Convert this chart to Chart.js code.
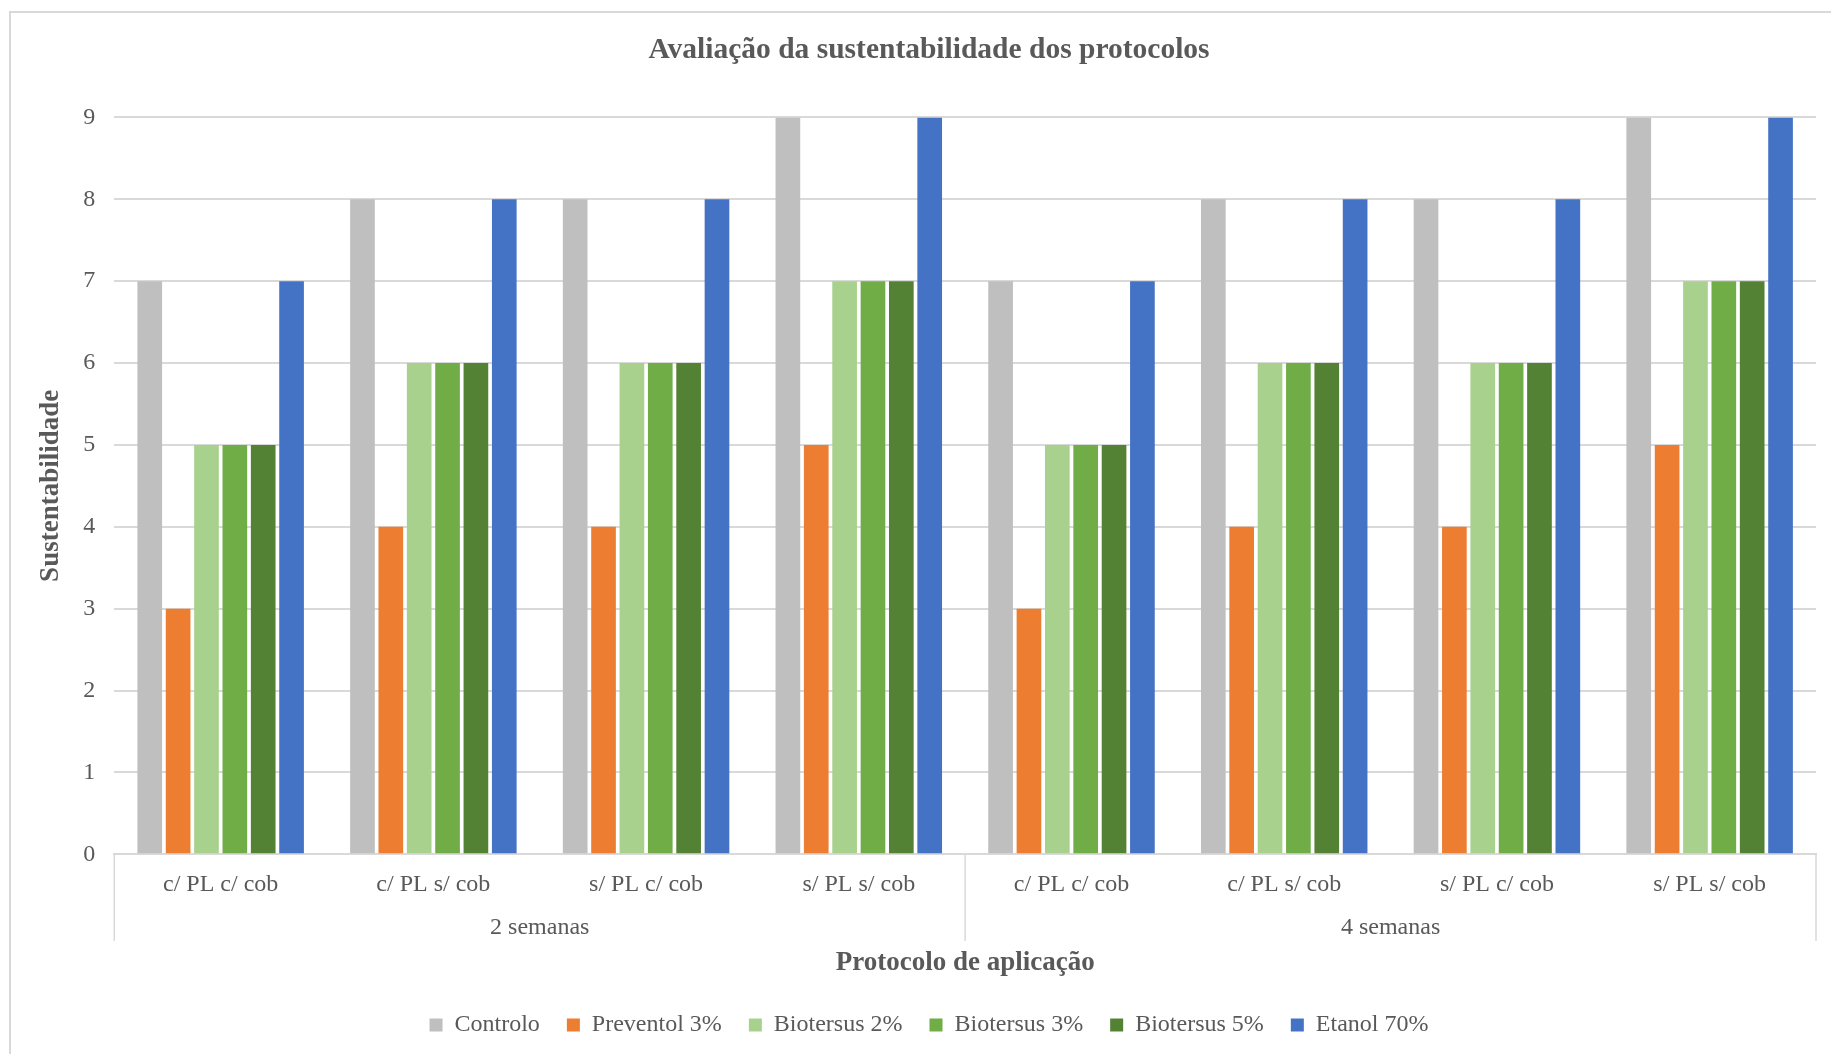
<!DOCTYPE html>
<html>
<head>
  <title>Avaliação da sustentabilidade dos protocolos</title>
  <style>
    body {
      margin: 0;
      background-color: #ffffff;
      overflow: hidden;
    }
    .frame {
      position: absolute;
      left: 9px;
      top: 11px;
      width: 1840px;
      height: 1060px;
      border: 2px solid #d9d9d9;
    }
    .chart-container {
      position: absolute;
      left: 0;
      top: 0;
      width: 1831px;
      height: 1054px;
    }
  </style>
</head>
<body>
  <div class="frame"></div>
  <div class="chart-container">
    <canvas id="sustChart"></canvas>
  </div>

  <script src="https://cdn.jsdelivr.net/npm/chart.js"></script>
  <script>
    // protocolos por periodo (2 semanas, depois 4 semanas)
    const protocolos = ['c/ PL c/ cob', 'c/ PL s/ cob', 's/ PL c/ cob', 's/ PL s/ cob',
                        'c/ PL c/ cob', 'c/ PL s/ cob', 's/ PL c/ cob', 's/ PL s/ cob'];
    const semanas = ['2 semanas', '4 semanas'];
    const yTicks = [0, 1, 2, 3, 4, 5, 6, 7, 8, 9];

    const controlo    = [7, 8, 8, 9, 7, 8, 8, 9];
    const preventol3  = [3, 4, 4, 5, 3, 4, 4, 5];
    const biotersus2  = [5, 6, 6, 7, 5, 6, 6, 7];
    const biotersus3  = [5, 6, 6, 7, 5, 6, 6, 7];
    const biotersus5  = [5, 6, 6, 7, 5, 6, 6, 7];
    const etanol70    = [7, 8, 8, 9, 7, 8, 8, 9];

    const cinza = '#595959';
    const linha = '#d9d9d9';

    Chart.defaults.font.family = "'Liberation Serif', 'Times New Roman', serif";
    Chart.defaults.color = cinza;

    // linhas verticais que separam os grupos de semanas no eixo x
    const separadores = {
      id: 'separadores',
      afterDraw(chart) {
        const x = chart.scales.x;
        const x2 = chart.scales.x2;
        const porGrupo = protocolos.length / semanas.length;
        const ctx = chart.ctx;
        const pos = [x.left];
        for (let g = 1; g < semanas.length; g++) {
          pos.push((x.getPixelForValue(g * porGrupo - 1) + x.getPixelForValue(g * porGrupo)) / 2);
        }
        pos.push(x.right);
        const y0 = chart.chartArea.bottom;
        const y1 = x2.top + 26;
        ctx.save();
        ctx.strokeStyle = linha;
        ctx.lineWidth = 1.5;
        pos.forEach(px => {
          ctx.beginPath();
          ctx.moveTo(px, y0);
          ctx.lineTo(px, y1);
          ctx.stroke();
        });
        ctx.restore();
      }
    };

    function serie(label, data, color) {
      return {
        label: label,
        data: data,
        backgroundColor: color,
        borderWidth: 0,
        categoryPercentage: 0.8,
        barPercentage: 0.87
      };
    }

    const ctx = document.getElementById('sustChart').getContext('2d');
    new Chart(ctx, {
      type: 'bar',
      data: {
        labels: protocolos,
        datasets: [
          serie('Controlo', controlo, '#bfbfbf'),
          serie('Preventol 3%', preventol3, '#ed7d31'),
          serie('Biotersus 2%', biotersus2, '#a9d18e'),
          serie('Biotersus 3%', biotersus3, '#70ad47'),
          serie('Biotersus 5%', biotersus5, '#548235'),
          serie('Etanol 70%', etanol70, '#4472c4')
        ]
      },
      options: {
        responsive: true,
        maintainAspectRatio: false,
        animation: false,
        layout: {
          padding: { left: 42, right: 15, top: 33, bottom: 7 }
        },
        plugins: {
          title: {
            display: true,
            text: 'Avaliação da sustentabilidade dos protocolos',
            color: cinza,
            font: { size: 29.5, weight: 'bold' },
            padding: { top: 0, bottom: 49 }
          },
          legend: {
            position: 'bottom',
            labels: {
              boxWidth: 13,
              boxHeight: 13,
              padding: 27,
              color: cinza,
              font: { size: 24 }
            }
          },
          tooltip: { enabled: false }
        },
        scales: {
          x: {
            weight: 0,
            grid: { display: false, drawTicks: false },
            border: { color: linha, width: 2 },
            ticks: { padding: 16.5, font: { size: 24, lineHeight: 1.15 }, color: cinza }
          },
          x2: {
            type: 'category',
            labels: semanas,
            position: 'bottom',
            offset: true,
            weight: 1,
            grid: { display: false, drawTicks: false },
            border: { display: false },
            ticks: { padding: 2.3, font: { size: 24, lineHeight: 0.9 }, color: cinza },
            title: {
              display: true,
              text: 'Protocolo de aplicação',
              color: cinza,
              font: { size: 27, weight: 'bold' },
              padding: { top: 5.3, bottom: 7.2 }
            }
          },
          y: {
            min: 0,
            max: 9,
            afterBuildTicks(scale) {
              scale.ticks = yTicks.map(v => ({ value: v }));
            },
            grid: { color: linha, lineWidth: 2, drawTicks: false },
            border: { display: false },
            ticks: { padding: 19, font: { size: 24 }, color: cinza },
            title: {
              display: true,
              text: 'Sustentabilidade',
              color: cinza,
              font: { size: 27, weight: 'bold', lineHeight: 1 },
              padding: { top: -4.7, bottom: 0 }
            }
          }
        }
      },
      plugins: [separadores]
    });
  </script>
</body>
</html>
